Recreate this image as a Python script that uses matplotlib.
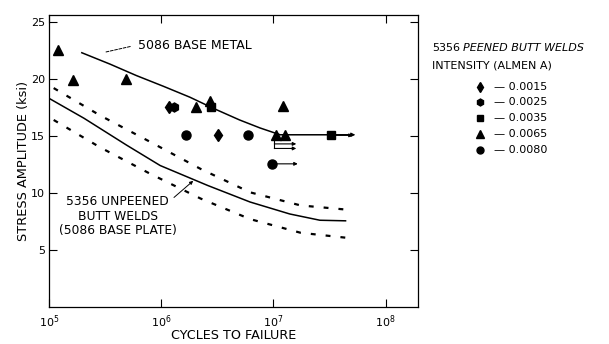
import numpy as np
import matplotlib
matplotlib.use('Agg')
import matplotlib.pyplot as plt

# ================= 数据 =================
# 5086 母材 S-N 曲线
base_cycles = [1.96e5, 3.5e5, 6.0e5, 1.05e6, 1.8e6, 2.95e6, 5.0e6, 7.6e6, 1.15e7, 2.0e7, 4.8e7]
base_stress = [22.3, 21.3, 20.3, 19.35, 18.4, 17.4, 16.4, 15.7, 15.1, 15.1, 15.1]

# 5356 未喷丸对接焊缝 (平均线 + 上下分散带)
unp_cycles = [1.0e5, 2.05e5, 4.9e5, 9.8e5, 2.6e6, 6.2e6, 1.4e7, 2.6e7, 4.4e7]
unp_stress = [18.3, 16.55, 14.2, 12.4, 10.65, 9.2, 8.15, 7.6, 7.55]

upper_cycles = [1.1e5, 2.85e5, 7.9e5, 2.25e6, 6.2e6, 1.75e7, 4.3e7]
upper_stress = [19.2, 16.8, 14.5, 12.1, 10.05, 8.9, 8.55]

lower_cycles = [1.1e5, 2.85e5, 7.9e5, 2.25e6, 6.2e6, 1.75e7, 4.6e7]
lower_stress = [16.4, 14.0, 11.7, 9.5, 7.7, 6.5, 6.05]

# 5356 喷丸对接焊缝, 按 Almen A 强度分组
intensity_labels = ['0.0015', '0.0025', '0.0035', '0.0065', '0.0080']
intensity_markers = ['d', 'h', 's', '^', 'o']
peened_cycles = {
    '0.0015': [1.18e6, 3.2e6],
    '0.0025': [1.3e6],
    '0.0035': [2.8e6, 3.24e7],
    '0.0065': [1.2e5, 1.64e5, 4.9e5, 2.05e6, 2.7e6, 1.23e7, 1.05e7, 1.26e7],
    '0.0080': [1.67e6, 5.9e6, 9.8e6],
}
peened_stress = {
    '0.0015': [17.5, 15.05],
    '0.0025': [17.5],
    '0.0035': [17.5, 15.05],
    '0.0065': [22.5, 19.9, 20.0, 17.5, 18.05, 17.6, 15.05, 15.05],
    '0.0080': [15.05, 15.05, 12.55],
}

# 未断裂 (runout) 箭头: 起点循环数, 终点循环数, 应力
runout_start = [3.24e7, 1.02e7, 1.02e7, 9.8e6]
runout_end = [5.1e7, 1.6e7, 1.6e7, 1.65e7]
runout_stress = [15.05, 14.3, 13.9, 12.55]

x_ticks = [1e5, 1e6, 1e7, 1e8]
x_ticklabels = ['10$^5$', '10$^6$', '10$^7$', '10$^8$']
y_ticks = [5, 10, 15, 20, 25]

plt.rcParams['font.family'] = ['DejaVu Sans']
plt.rcParams['mathtext.default'] = 'regular'

fig = plt.figure(figsize=(6.09, 3.44), dpi=100)
ax = fig.add_axes([0.0805, 0.108, 0.606, 0.848])

ax.set_xscale('log')
ax.set_xlim(1e5, 10 ** 8.29)
ax.set_ylim(0, 25.6)

# 曲线
ax.plot(base_cycles, base_stress, color='black', lw=1.1)
ax.plot(unp_cycles, unp_stress, color='black', lw=1.1)
ax.plot(upper_cycles, upper_stress, color='black', lw=1.6, dashes=(2.2, 4.5))
ax.plot(lower_cycles, lower_stress, color='black', lw=1.6, dashes=(2.2, 4.5))

# 母材曲线末端箭头
ax.annotate('', xy=(base_cycles[-1] * 1.12, base_stress[-1]), xytext=(base_cycles[-1], base_stress[-1]),
            arrowprops=dict(arrowstyle='-|>', color='black', lw=0.8, mutation_scale=6))

# 数据点
msize = {'d': 6.5, 'h': 6.5, 's': 6, '^': 7, 'o': 6.5}
for lab, mk in zip(intensity_labels, intensity_markers):
    ax.plot(peened_cycles[lab], peened_stress[lab], linestyle='none', marker=mk,
            color='black', markersize=msize[mk], clip_on=False)

# runout 箭头
for xs, xe, s in zip(runout_start, runout_end, runout_stress):
    ax.annotate('', xy=(xe, s), xytext=(xs, s),
                arrowprops=dict(arrowstyle='-|>', color='black', lw=0.8, mutation_scale=5,
                                shrinkA=0, shrinkB=0))
# 括号竖线
ax.plot([runout_start[1], runout_start[1]], [15.05, runout_stress[2]], color='black', lw=0.8)

# 标注
ax.text(6.2e5, 22.9, '5086 BASE METAL', fontsize=9, ha='left', va='center')
ax.annotate('', xy=(3.0e5, 22.3), xytext=(5.6e5, 22.9),
            arrowprops=dict(arrowstyle='-', color='black', lw=0.7, linestyle=(0, (3, 1.5))))
ax.text(4.1e5, 7.96, '5356 UNPEENED\nBUTT WELDS\n(5086 BASE PLATE)', fontsize=8.8,
        ha='center', va='center', linespacing=1.15)
ax.annotate('', xy=(1.93e6, 11.06), xytext=(1.3e6, 9.6),
            arrowprops=dict(arrowstyle='-|>', color='black', lw=0.7, mutation_scale=5, shrinkA=0, shrinkB=0))

# 坐标轴
ax.set_xticks(x_ticks)
ax.set_xticklabels(x_ticklabels, fontsize=8)
ax.minorticks_off()
ax.set_yticks(y_ticks)
ax.set_yticklabels([str(v) for v in y_ticks], fontsize=8)
ax.tick_params(direction='in', top=True, right=True, length=6, width=0.8)
ax.tick_params(axis='x', pad=5)
ax.tick_params(axis='y', pad=3)
for sp in ax.spines.values():
    sp.set_linewidth(0.9)
ax.set_xlabel('CYCLES TO FAILURE', fontsize=9.2, va='center')
ax.xaxis.set_label_coords(0.5, -0.098)
ax.set_ylabel('STRESS AMPLITUDE (ksi)', fontsize=9.3, va='center')
ax.yaxis.set_label_coords(-0.07, 0.5)

# 右侧图例 (手工排布)
lg = fig.add_axes([0, 0, 1, 1])
lg.set_xlim(0, 609)
lg.set_ylim(344, 0)
lg.axis('off')
lg.text(432, 48, '5356', fontsize=8, va='center', ha='left')
lg.text(463, 48, 'PEENED BUTT WELDS', fontsize=8, va='center', ha='left', style='italic')
lg.text(432, 65, 'INTENSITY (ALMEN A)', fontsize=8, va='center', ha='left')
legend_y = [87, 102, 118, 134, 150]
for yy, lab, mk in zip(legend_y, intensity_labels, intensity_markers):
    lg.plot([480], [yy], marker=mk, color='black', markersize=msize[mk] - 1.5, linestyle='none')
    lg.text(494, yy, '\u2014 ' + lab, fontsize=8, va='center', ha='left')

fig.savefig('out.png', dpi=100)
